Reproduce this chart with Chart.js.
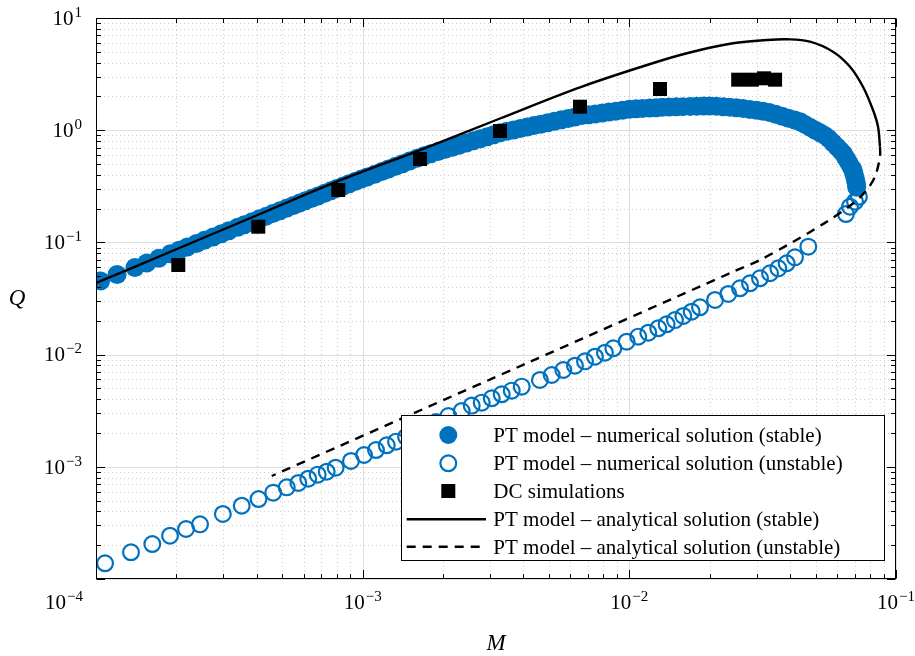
<!DOCTYPE html>
<html><head><meta charset="utf-8">
<script src="https://cdn.jsdelivr.net/npm/chart.js@4.4.1/dist/chart.umd.min.js"></script>
<style>html,body{margin:0;padding:0;background:#fff;}canvas{display:block;}</style>
</head><body>
<canvas id="c" width="915" height="656"></canvas>
<script>
// ---------- data ----------
const stableM = [1.04e-4,1.2e-4,1.4e-4,1.55e-4,1.72e-4,1.9e-4,2.05e-4,2.2e-4,2.38e-4,2.55e-4,2.75e-4,2.95e-4,3.15e-4,3.4e-4,3.6e-4,3.85e-4,4.1e-4,4.35e-4,4.6e-4,4.9e-4,5.2e-4,5.5e-4,5.8e-4,6.1e-4,6.45e-4,6.8e-4,7.2e-4,7.6e-4,8.0e-4,8.45e-4,8.9e-4,9.4e-4,9.9e-4,
 1.04e-3,1.11e-3,1.18e-3,1.25e-3,1.33e-3,1.41e-3,1.5e-3,1.6e-3,1.7e-3,1.8e-3,1.92e-3,2.04e-3,2.17e-3,2.3e-3,2.45e-3,2.6e-3,2.76e-3,2.93e-3,3.1e-3,3.27e-3,3.47e-3,3.68e-3,3.9e-3,4.14e-3,4.39e-3,4.66e-3,4.94e-3,5.24e-3,5.56e-3,5.9e-3,6.26e-3,6.64e-3,7.04e-3,7.46e-3,7.91e-3,8.39e-3,8.9e-3,9.43e-3,1.0e-2,
 1.06e-2,1.12e-2,1.19e-2,1.26e-2,1.33e-2,1.41e-2,1.5e-2,1.59e-2,1.69e-2,1.79e-2,1.9e-2,2.0e-2,2.12e-2,2.25e-2,2.38e-2,2.52e-2,2.67e-2,2.83e-2,3.0e-2,3.17e-2,3.35e-2,3.54e-2,3.74e-2,3.95e-2,4.17e-2,4.37e-2,4.57e-2,4.77e-2,4.98e-2,5.19e-2,5.4e-2,5.6e-2,5.8e-2,6.0e-2,6.2e-2,6.35e-2,6.5e-2,6.65e-2,6.8e-2,6.9e-2,6.95e-2,7.0e-2,7.05e-2,7.1e-2,7.12e-2];
const stableQ = [0.0453,0.0517,0.0597,0.0656,0.0723,0.0793,0.0851,0.0909,0.0978,0.1043,0.1119,0.1194,0.1269,0.1363,0.1437,0.1530,0.1622,0.1714,0.1805,0.1914,0.2023,0.2132,0.2239,0.2346,0.2472,0.2596,0.2737,0.2879,0.3020,0.3178,0.3334,0.3508,0.3681,
 0.3823,0.4055,0.4284,0.4511,0.4771,0.5028,0.5316,0.5634,0.5917,0.6166,0.6460,0.6747,0.7055,0.7355,0.7698,0.8035,0.8387,0.8758,0.9120,0.9476,0.9763,1.0055,1.0354,1.0666,1.0985,1.1317,1.1652,1.2000,1.2361,1.2735,1.3116,1.3508,1.3720,1.3978,1.4241,1.4512,1.4791,1.5066,1.5353,
 1.5497,1.5619,1.5752,1.5879,1.5996,1.6062,1.6144,1.6218,1.6297,1.6373,1.6444,1.6425,1.6331,1.6199,1.6051,1.5849,1.5571,1.5295,1.5031,1.4777,1.4409,1.3847,1.3311,1.2794,1.2304,1.1887,1.1207,1.0593,1.0007,0.9473,0.8990,0.8417,0.7735,0.7121,0.6579,0.6170,0.5617,0.5123,0.4680,0.4418,0.4110,0.3841,0.3589,0.3352,0.31];

const unstableM = [1.081e-4,1.353e-4,1.626e-4,1.895e-4,2.176e-4,2.455e-4,2.99e-4,3.52e-4,4.07e-4,4.62e-4,5.19e-4,5.74e-4,6.25e-4,6.78e-4,7.33e-4,7.92e-4,9.04e-4,1.012e-3,1.122e-3,1.231e-3,1.334e-3,1.454e-3,1.585e-3,1.728e-3,1.884e-3,
 2.095e-3,2.351e-3,2.564e-3,2.795e-3,3.047e-3,3.322e-3,3.622e-3,3.949e-3,4.62e-3,5.115e-3,5.655e-3,6.254e-3,6.82e-3,7.43e-3,8.10e-3,8.71e-3,9.77e-3,1.080e-2,1.178e-2,1.284e-2,1.380e-2,1.483e-2,1.594e-2,1.713e-2,1.841e-2,2.096e-2,2.35e-2,2.60e-2,2.835e-2,3.09e-2,3.37e-2,3.62e-2,3.89e-2,4.18e-2,4.69e-2,
 6.49e-2,6.72e-2,7.02e-2,7.26e-2];
const unstableQ = [1.38e-4,1.73e-4,2.05e-4,2.43e-4,2.79e-4,3.07e-4,3.80e-4,4.50e-4,5.16e-4,5.88e-4,6.56e-4,7.18e-4,7.83e-4,8.51e-4,9.04e-4,9.82e-4,1.127e-3,1.274e-3,1.41e-3,1.555e-3,1.675e-3,1.851e-3,2.047e-3,2.263e-3,2.507e-3,
 2.836e-3,3.143e-3,3.51e-3,3.73e-3,4.08e-3,4.43e-3,4.77e-3,5.18e-3,5.94e-3,6.58e-3,7.29e-3,7.96e-3,8.71e-3,9.58e-3,1.04e-2,1.138e-2,1.303e-2,1.445e-2,1.567e-2,1.716e-2,1.862e-2,2.03e-2,2.21e-2,2.41e-2,2.64e-2,3.07e-2,3.47e-2,3.90e-2,4.32e-2,4.79e-2,5.31e-2,5.87e-2,6.51e-2,7.36e-2,9.16e-2,
 0.179,0.208,0.231,0.255];

const dcM = [2.035e-4,4.06e-4,8.10e-4,1.641e-3,3.273e-3,6.531e-3,1.303e-2,2.56e-2,2.88e-2,3.2e-2,3.52e-2];
const dcQ = [0.0629,0.138,0.2931,0.5538,0.9837,1.62,2.329,2.82,2.82,2.90,2.82];

const anaStableM = [1.0e-4,2.012e-4,4.12e-4,8.08e-4,1.641e-3,3.273e-3,6.531e-3,1.3375e-2,1.841e-2,2.446e-2,3.282e-2,3.902e-2,4.757e-2,5.802e-2,6.722e-2,7.518e-2,8.199e-2,8.562e-2,8.71e-2];
const anaStableQ = [0.04345,0.0873,0.1791,0.3511,0.666,1.2715,2.4124,4.224,5.186,5.95,6.366,6.459,6.149,5.006,3.681,2.442,1.514,1.0745,0.7127];

const anaUnstableM = [8.71e-2,8.71e-2,8.34e-2,7.766e-2,6.918e-2,5.497e-2,4.12e-2,3.09e-2,2.454e-2,4.122e-3,4.56e-4];
const anaUnstableQ = [0.7127,0.5804,0.3852,0.2931,0.2232,0.1529,0.1014,0.0697,0.0548,8.37e-3,8.28e-4];

const seriesLabels = [
  'PT model \u2013 numerical solution (stable)',
  'PT model \u2013 numerical solution (unstable)',
  'DC simulations',
  'PT model \u2013 analytical solution (stable)',
  'PT model \u2013 analytical solution (unstable)'
];
const xTickExps = [-4,-3,-2,-1];
const yTickExps = [-4,-3,-2,-1,0,1];
const xLabelExps = [-3,-2,-1];
const yLabelExps = [-3,-2,-1,0,1];
const cornerLabelExp = -4;
const xTitle = 'M', yTitle = 'Q';

// ---------- styling ----------
const BLUE = '#0072BD';
const SERIF = '"Liberation Serif", "Times New Roman", serif';
const pts = (a, b) => a.map((v, i) => ({x: v, y: b[i]}));

const datasets = [
  {label: seriesLabels[3], type: 'line', data: pts(anaStableM, anaStableQ), borderColor: '#000', borderWidth: 2.4, pointRadius: 0, tension: 0.35, fill: false, order: 1},
  {label: seriesLabels[4], type: 'line', data: pts(anaUnstableM, anaUnstableQ), borderColor: '#000', borderWidth: 2.4, borderDash: [9, 7], pointRadius: 0, tension: 0.3, fill: false, order: 1},
  {label: seriesLabels[2], data: pts(dcM, dcQ), pointStyle: 'rect', pointRadius: 9.9, backgroundColor: '#000', borderColor: '#000', borderWidth: 0, order: 2},
  {label: seriesLabels[1], data: pts(unstableM, unstableQ), pointStyle: 'circle', pointRadius: 7.9, borderWidth: 2.2, borderColor: BLUE, backgroundColor: 'rgba(0,0,0,0)', order: 3},
  {label: seriesLabels[0], data: pts(stableM, stableQ), pointStyle: 'circle', pointRadius: 9.5, borderWidth: 0, borderColor: BLUE, backgroundColor: BLUE, order: 4}
];

function supLabel(ctx, exp, x, baseY, align) {
  const base = '10';
  const es = exp < 0 ? '\u2212' + (-exp) : String(exp);
  ctx.font = '21px ' + SERIF;
  const bw = ctx.measureText(base).width;
  ctx.font = '15px ' + SERIF;
  const ew = ctx.measureText(es).width;
  const total = bw + 1 + ew;
  let left = align === 'center' ? x - total / 2 : (align === 'right' ? x - total : x);
  ctx.fillStyle = '#000';
  ctx.textAlign = 'left';
  ctx.textBaseline = 'alphabetic';
  ctx.font = '21px ' + SERIF;
  ctx.fillText(base, left, baseY);
  ctx.font = '15px ' + SERIF;
  ctx.fillText(es, left + bw + 1, baseY - 8);
}

function minorValues(exps) {
  const out = [];
  for (let i = 0; i < exps.length - 1; i++) {
    for (let k = 2; k <= 9; k++) out.push(k * Math.pow(10, exps[i]));
  }
  return out;
}

const bgPlugin = {
  id: 'bg',
  beforeDraw(chart) {
    const c = chart.ctx;
    c.save(); c.fillStyle = '#fff'; c.fillRect(0, 0, chart.width, chart.height); c.restore();
  }
};

const gridPlugin = {
  id: 'mgrid',
  beforeDatasetsDraw(chart) {
    const c = chart.ctx, a = chart.chartArea, xs = chart.scales.x, ys = chart.scales.y;
    c.save();
    c.lineWidth = 1;
    c.strokeStyle = '#cfcfcf';
    c.setLineDash([1, 3]);
    minorValues(xTickExps).forEach(v => {
      const p = Math.round(xs.getPixelForValue(v)) + 0.5;
      c.beginPath(); c.moveTo(p, a.top); c.lineTo(p, a.bottom); c.stroke();
    });
    minorValues(yTickExps).forEach(v => {
      const p = Math.round(ys.getPixelForValue(v)) + 0.5;
      c.beginPath(); c.moveTo(a.left, p); c.lineTo(a.right, p); c.stroke();
    });
    c.setLineDash([]);
    c.strokeStyle = '#dedede';
    xTickExps.forEach(e => {
      const p = Math.round(xs.getPixelForValue(Math.pow(10, e))) + 0.5;
      c.beginPath(); c.moveTo(p, a.top); c.lineTo(p, a.bottom); c.stroke();
    });
    yTickExps.forEach(e => {
      const p = Math.round(ys.getPixelForValue(Math.pow(10, e))) + 0.5;
      c.beginPath(); c.moveTo(a.left, p); c.lineTo(a.right, p); c.stroke();
    });
    c.restore();
  }
};

const framePlugin = {
  id: 'frame',
  afterDraw(chart) {
    const c = chart.ctx, a = chart.chartArea, xs = chart.scales.x, ys = chart.scales.y;
    c.save();
    c.strokeStyle = '#000';
    c.lineWidth = 1;
    c.setLineDash([]);
    const L = Math.round(a.left) + 0.5, R = Math.round(a.right) - 0.5, T = Math.round(a.top) + 0.5, B = Math.round(a.bottom) - 0.5;
    c.strokeRect(L, T, R - L, B - T);
    const tick = (v, len, isX) => {
      if (isX) {
        const p = Math.round(xs.getPixelForValue(v)) + 0.5;
        c.beginPath(); c.moveTo(p, B); c.lineTo(p, B - len); c.moveTo(p, T); c.lineTo(p, T + len); c.stroke();
      } else {
        const p = Math.round(ys.getPixelForValue(v)) + 0.5;
        c.beginPath(); c.moveTo(L, p); c.lineTo(L + len, p); c.moveTo(R, p); c.lineTo(R - len, p); c.stroke();
      }
    };
    minorValues(xTickExps).forEach(v => tick(v, 4.5, true));
    minorValues(yTickExps).forEach(v => tick(v, 4.5, false));
    xTickExps.forEach(e => tick(Math.pow(10, e), 8.5, true));
    yTickExps.forEach(e => tick(Math.pow(10, e), 8.5, false));

    xLabelExps.forEach(e => supLabel(c, e, xs.getPixelForValue(Math.pow(10, e)), a.bottom + 29.5, 'center'));
    yLabelExps.forEach(e => supLabel(c, e, a.left - 14, ys.getPixelForValue(Math.pow(10, e)) + 6.8, 'right'));
    supLabel(c, cornerLabelExp, a.left - 13, a.bottom + 30, 'right');

    c.fillStyle = '#000';
    c.font = 'italic 23px ' + SERIF;
    c.textAlign = 'center';
    c.textBaseline = 'middle';
    c.fillText(xTitle, (a.left + a.right) / 2, 644);
    c.fillText(yTitle, 17, (a.top + a.bottom) / 2);

    // legend
    const LL = 401.5, LT = 415.5, LR = 884.5, LB = 560.5;
    c.fillStyle = '#fff';
    c.fillRect(LL, LT, LR - LL, LB - LT);
    c.strokeStyle = '#000'; c.lineWidth = 1;
    c.strokeRect(LL, LT, LR - LL, LB - LT);
    const rows = [435, 463.3, 491, 519.3, 546.7];
    const symX = 448.3, textX = 493.3;
    const order = [4, 3, 2, 0, 1];
    order.forEach((di, r) => {
      const ds = datasets[di];
      const y = rows[r];
      c.save();
      if (ds.type === 'line') {
        c.strokeStyle = ds.borderColor; c.lineWidth = ds.borderWidth;
        c.setLineDash(ds.borderDash || []);
        c.beginPath(); c.moveTo(406.7, y); c.lineTo(486, y); c.stroke();
      } else if (ds.pointStyle === 'rect') {
        c.fillStyle = ds.backgroundColor;
        c.fillRect(symX - 7, y - 7, 14, 14);
      } else {
        c.beginPath(); c.arc(symX, y, ds.borderWidth ? 7.9 : 9, 0, Math.PI * 2);
        if (ds.borderWidth) { c.strokeStyle = ds.borderColor; c.lineWidth = ds.borderWidth; c.stroke(); }
        else { c.fillStyle = ds.backgroundColor; c.fill(); }
      }
      c.restore();
      c.fillStyle = '#000';
      c.font = '21px ' + SERIF;
      c.textAlign = 'left';
      c.textBaseline = 'alphabetic';
      c.fillText(ds.label, textX, y + 7);
    });
    c.restore();
  }
};

new Chart(document.getElementById('c').getContext('2d'), {
  type: 'scatter',
  data: {datasets},
  options: {
    responsive: false,
    animation: false,
    devicePixelRatio: 1,
    events: [],
    layout: {padding: {left: 96, top: 18, right: 19, bottom: 77}},
    plugins: {legend: {display: false}, tooltip: {enabled: false}},
    elements: {point: {hoverRadius: 0}},
    scales: {
      x: {type: 'logarithmic', min: 1e-4, max: 1e-1,
          grid: {display: false, drawTicks: false}, border: {display: false}, ticks: {display: false},
          afterFit: s => { s.height = 0; }},
      y: {type: 'logarithmic', min: 1e-4, max: 10,
          grid: {display: false, drawTicks: false}, border: {display: false}, ticks: {display: false},
          afterFit: s => { s.width = 0; }}
    }
  },
  plugins: [bgPlugin, gridPlugin, framePlugin]
});
</script>
</body></html>
